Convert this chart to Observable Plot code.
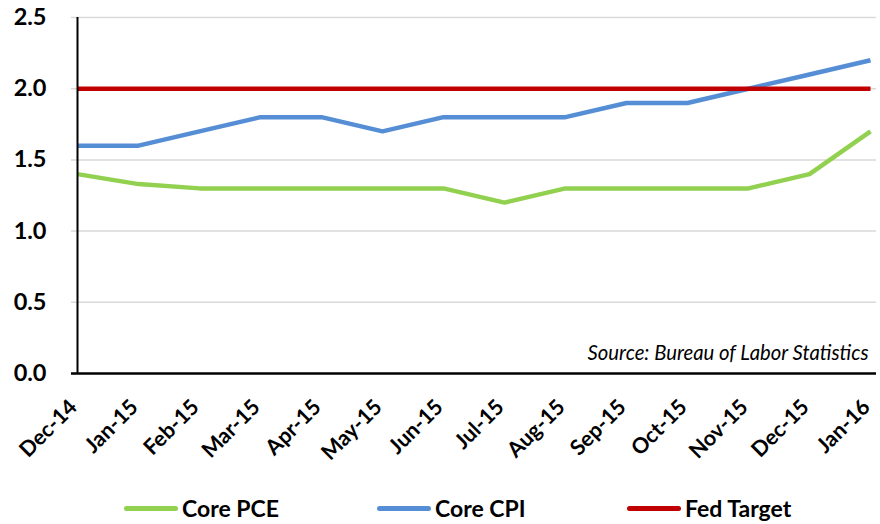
<!DOCTYPE html>
<html>
<head>
<meta charset="utf-8">
<script src="https://cdn.jsdelivr.net/npm/d3@7"></script>
<script src="https://cdn.jsdelivr.net/npm/@observablehq/plot@0.6"></script>
<style>
  html, body { margin: 0; padding: 0; background: #fff; }
  #chart { width: 880px; }
  .legend { font-family: Lato, "Open Sans", sans-serif; font-weight: bold; font-size: 23px; color: #000; height: 40px; position: relative; }
  .legend .item { position: absolute; top: 0; height: 40px; display: flex; align-items: center; }
  .legend .sw { width: 54px; height: 5px; border-radius: 3px; margin-right: 4px; }
</style>
</head>
<body>
<div id="chart"></div>
<script>
const months = ["Dec-14","Jan-15","Feb-15","Mar-15","Apr-15","May-15","Jun-15","Jul-15","Aug-15","Sep-15","Oct-15","Nov-15","Dec-15","Jan-16"];
const corePCE = [1.4,1.33,1.3,1.3,1.3,1.3,1.3,1.2,1.3,1.3,1.3,1.3,1.4,1.7];
const coreCPI = [1.6,1.6,1.7,1.8,1.8,1.7,1.8,1.8,1.8,1.9,1.9,2.0,2.1,2.2];
const fedTarget = [2.0,2.0,2.0,2.0,2.0,2.0,2.0,2.0,2.0,2.0,2.0,2.0,2.0,2.0];
const seriesNames = ["Core PCE","Core CPI","Fed Target"];
const seriesColors = ["#92d050","#558ed5","#c00000"];
const yTicks = [0,0.5,1.0,1.5,2.0,2.5];
const sourceText = ["Source: Bureau of Labor Statistics"];

const allSeries = [corePCE, coreCPI, fedTarget];
const rows = [];
allSeries.forEach((vals, si) => vals.forEach((v, i) => rows.push({month: months[i], value: v, series: seriesNames[si]})));

const font = "Lato, 'Open Sans', sans-serif";
const chart = Plot.plot({
  width: 880,
  height: 488,
  marginTop: 17,
  marginBottom: 115,
  marginLeft: 71,
  marginRight: 4,
  style: {fontFamily: font, fontWeight: "bold", fontSize: "23.5px", color: "#000", background: "#fff", overflow: "visible"},
  x: {type: "point", domain: months, padding: 0, axis: null},
  y: {domain: [0, 2.5]},
  color: {domain: seriesNames, range: seriesColors},
  marks: [
    Plot.gridY(yTicks.filter(d => d > 0), {stroke: "#d9d9d9", strokeOpacity: 1, strokeWidth: 1.5}),
    Plot.axisY(yTicks, {tickSize: 0, tickPadding: 25, tickFormat: d3.format(".1f"), label: null}),
    Plot.text(months, {x: d => d, frameAnchor: "bottom", textAnchor: "end", lineAnchor: "middle", rotate: -45, dx: -4, dy: 30, fontSize: 21.5, fontWeight: "bold", fill: "#000"}),
    Plot.line(rows, {x: "month", y: "value", z: "series", stroke: "series", strokeWidth: 4.5, strokeLinejoin: "miter", strokeLinecap: "butt"}),
    Plot.ruleX([0], {x: () => months[0], y1: 0, y2: 2.5, stroke: "#000", strokeWidth: 2}),
    Plot.ruleY([0], {stroke: "#000", strokeWidth: 2.5}),
    Plot.text(sourceText, {frameAnchor: "bottom-right", dx: -8, dy: -14, fontStyle: "italic", fontWeight: "normal", fontSize: 20.3, fill: "#000"})
  ]
});
document.getElementById("chart").appendChild(chart);

const legend = document.createElement("div");
legend.className = "legend";
const positions = [124, 377, 627];
seriesNames.forEach((name, i) => {
  const it = document.createElement("div");
  it.className = "item";
  it.style.left = positions[i] + "px";
  const sw = document.createElement("div");
  sw.className = "sw";
  sw.style.background = seriesColors[i];
  const t = document.createElement("span");
  t.textContent = name;
  it.appendChild(sw); it.appendChild(t);
  legend.appendChild(it);
});
document.getElementById("chart").appendChild(legend);
</script>
</body>
</html>
